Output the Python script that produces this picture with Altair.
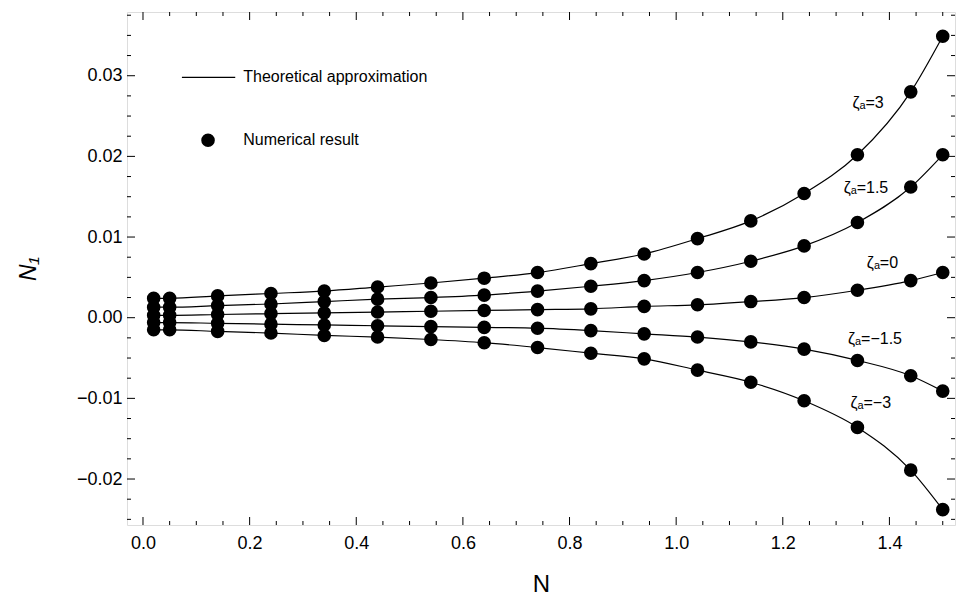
import altair as alt
import pandas as pd

# ---------------- data ----------------
N = [0.02, 0.05, 0.14, 0.24, 0.34, 0.44, 0.54, 0.64, 0.74, 0.84,
     0.94, 1.04, 1.14, 1.24, 1.34, 1.44, 1.50]

zeta_names = ["3", "1.5", "0", "-1.5", "-3"]
n1_z3 = [0.0024, 0.0024, 0.0027, 0.0030, 0.0033, 0.0038, 0.0043, 0.0049, 0.0056,
         0.0067, 0.0079, 0.0098, 0.0120, 0.0154, 0.0202, 0.0280, 0.0349]
n1_z15 = [0.0013, 0.0013, 0.0015, 0.0017, 0.0020, 0.0023, 0.0025, 0.0028, 0.0033,
          0.0039, 0.0046, 0.0056, 0.0070, 0.0089, 0.0118, 0.0162, 0.0202]
n1_z0 = [0.0003, 0.0003, 0.0004, 0.0005, 0.0006, 0.0007, 0.0008, 0.0009, 0.0010,
         0.0011, 0.0014, 0.0016, 0.0020, 0.0025, 0.0034, 0.0046, 0.0056]
n1_zm15 = [-0.0006, -0.0006, -0.0007, -0.0008, -0.0009, -0.0010, -0.0011, -0.0012, -0.0013,
           -0.0016, -0.0020, -0.0024, -0.0030, -0.0039, -0.0053, -0.0072, -0.0091]
n1_zm3 = [-0.0015, -0.0015, -0.0017, -0.0019, -0.0022, -0.0024, -0.0027, -0.0031, -0.0037,
          -0.0044, -0.0051, -0.0065, -0.0080, -0.0103, -0.0136, -0.0189, -0.0238]
series = [n1_z3, n1_z15, n1_z0, n1_zm15, n1_zm3]

# curve labels
label_text = ["ζₐ=3", "ζₐ=1.5", "ζₐ=0", "ζₐ=−1.5", "ζₐ=−3"]
label_x = [1.36, 1.356, 1.387, 1.373, 1.365]
label_y = [0.0266, 0.0161, 0.0068, -0.0026, -0.0106]

# in-plot legend
legend_line_x = [0.073, 0.173]
legend_line_y = [0.0298]
legend_dot_x = [0.122]
legend_dot_y = [0.0220]
legend_text_x = [0.188, 0.188]
legend_text_y = [0.0298, 0.0220]
legend_text = ["Theoretical approximation", "Numerical result"]

# axis ticks
x_major = [0.0, 0.2, 0.4, 0.6, 0.8, 1.0, 1.2, 1.4]
x_minor = [0.05, 0.1, 0.15, 0.25, 0.3, 0.35, 0.45, 0.5, 0.55, 0.65, 0.7, 0.75,
           0.85, 0.9, 0.95, 1.05, 1.1, 1.15, 1.25, 1.3, 1.35, 1.45, 1.5]
y_major = [-0.02, -0.01, 0.0, 0.01, 0.02, 0.03]
y_minor = [-0.025, -0.0225, -0.0175, -0.015, -0.0125, -0.0075, -0.005, -0.0025,
           0.0025, 0.005, 0.0075, 0.0125, 0.015, 0.0175, 0.0225, 0.025, 0.0275,
           0.0325, 0.035, 0.0375]

# ---------------- build tables ----------------
rows = []
for z, vals in zip(zeta_names, series):
    for n, v in zip(N, vals):
        rows.append({"N": n, "N1": v, "zeta": z})
df = pd.DataFrame(rows)
df_lab = pd.DataFrame({"N": label_x, "N1": label_y, "t": label_text})

W, H = 828, 513
FONT = "Liberation Sans"

xs = alt.Scale(domain=[-0.03, 1.523], nice=False, zero=False)
ys = alt.Scale(domain=[-0.0257, 0.0379], nice=False, zero=False)

x_axis = alt.Axis(values=x_major, format=".1f", labelFontSize=18, labelFont=FONT,
                  labelColor="black", tickSize=0, domain=False, grid=False,
                  labelPadding=9, title="N", titleFontSize=24, titleFont=FONT,
                  titleFontWeight="normal", titleColor="black", titlePadding=20)
y_axis = alt.Axis(values=y_major, format=".2f", labelFontSize=18, labelFont=FONT,
                  labelColor="black", tickSize=0, domain=False, grid=False,
                  labelPadding=5, title="N₁", titleFontSize=23, titleFont=FONT,
                  titleFontStyle="italic",
                  titleFontWeight="normal", titleColor="black", titlePadding=36)

lines = alt.Chart(df).mark_line(color="black", strokeWidth=1.2, interpolate="monotone").encode(
    x=alt.X("N:Q", scale=xs, axis=x_axis),
    y=alt.Y("N1:Q", scale=ys, axis=y_axis),
    detail="zeta:N",
)
points = alt.Chart(df).mark_circle(size=185, color="black", opacity=1).encode(
    x=alt.X("N:Q", scale=xs), y=alt.Y("N1:Q", scale=ys)
)
labels = alt.Chart(df_lab).mark_text(font=FONT, fontSize=16,
                                     color="black", align="center", baseline="middle").encode(
    x=alt.X("N:Q", scale=xs), y=alt.Y("N1:Q", scale=ys), text="t:N"
)

# legend
leg_line = alt.Chart(pd.DataFrame({"x": [legend_line_x[0]], "x2": [legend_line_x[1]],
                                   "y": legend_line_y})).mark_rule(color="black", strokeWidth=1.2).encode(
    x=alt.X("x:Q", scale=xs), x2="x2:Q", y=alt.Y("y:Q", scale=ys)
)
leg_dot = alt.Chart(pd.DataFrame({"x": legend_dot_x, "y": legend_dot_y})).mark_circle(
    size=185, color="black", opacity=1).encode(
    x=alt.X("x:Q", scale=xs), y=alt.Y("y:Q", scale=ys)
)
leg_text = alt.Chart(pd.DataFrame({"x": legend_text_x, "y": legend_text_y, "t": legend_text})).mark_text(
    font=FONT, fontSize=16, color="black", align="left", baseline="middle").encode(
    x=alt.X("x:Q", scale=xs), y=alt.Y("y:Q", scale=ys), text="t:N"
)

# inward ticks
def xticks(vals, length):
    d = pd.DataFrame({"x": vals})
    b = alt.Chart(d).mark_rule(color="black", strokeWidth=1).encode(
        x=alt.X("x:Q", scale=xs), y=alt.value(H), y2=alt.value(H - length))
    t = alt.Chart(d).mark_rule(color="black", strokeWidth=1).encode(
        x=alt.X("x:Q", scale=xs), y=alt.value(0), y2=alt.value(length))
    return b + t

def yticks(vals, length):
    d = pd.DataFrame({"y": vals})
    l = alt.Chart(d).mark_rule(color="black", strokeWidth=1).encode(
        y=alt.Y("y:Q", scale=ys), x=alt.value(0), x2=alt.value(length))
    r = alt.Chart(d).mark_rule(color="black", strokeWidth=1).encode(
        y=alt.Y("y:Q", scale=ys), x=alt.value(W), x2=alt.value(W - length))
    return l + r

chart = alt.layer(
    lines, points, labels, leg_line, leg_dot, leg_text,
    xticks(x_major, 8), xticks(x_minor, 4), yticks(y_major, 8), yticks(y_minor, 4)
).properties(
    width=W, height=H,
    autosize=alt.AutoSizeParams(type="none"),
    padding={"left": 127, "top": 12, "right": 1, "bottom": 74},
).configure_view(stroke="black", strokeWidth=1).configure(background="white")

chart.save("out.html", embed_options={"renderer": "svg", "actions": False})
